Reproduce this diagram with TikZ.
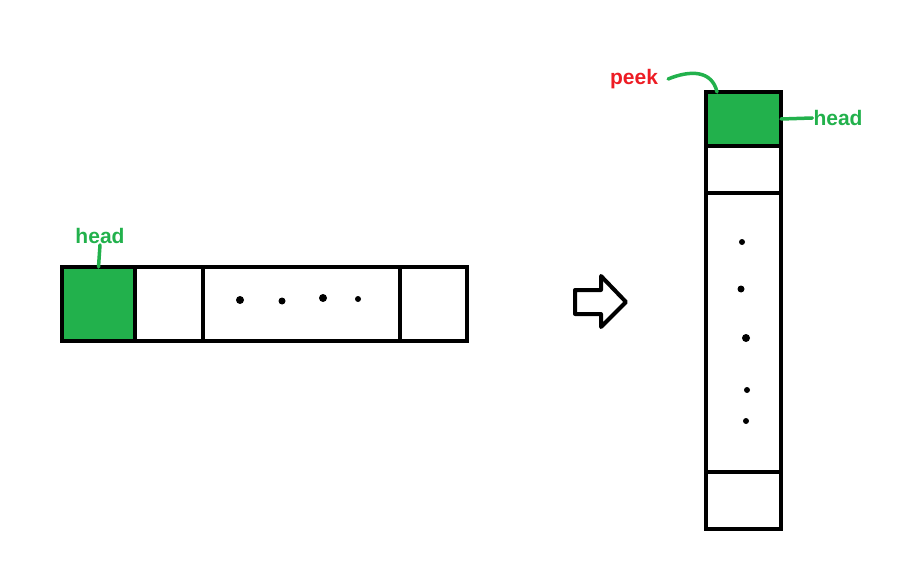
\documentclass[tikz,border=0pt]{standalone}
\usepackage{fontspec}
\setmainfont{Liberation Sans}
\definecolor{headgreen}{HTML}{22B14C}
\definecolor{peekred}{HTML}{ED1C24}
\tikzset{
  cell/.style={draw,line width=4pt,minimum height=#1,inner sep=0pt,outer sep=0pt},
  label/.style={font=\bfseries\fontsize{21}{21}\selectfont,inner sep=1pt},
  dot/.style={circle,fill=black,inner sep=0pt,minimum size=7pt},
  pointer/.style={headgreen,line width=3.5pt,line cap=round}
}
\begin{document}
\begin{tikzpicture}[x=1pt,y=-1pt]
\useasboundingbox (0,0) rectangle (919,575);
% the array, laid out in a row
\node [cell=74pt,minimum width=73pt,fill=headgreen] (c1) at (98.5,304) {};
\node [cell=74pt,minimum width=68pt] (c2) at (169,304) {};
\node [cell=74pt,minimum width=197pt] (c3) at (301.5,304) {};
\node [cell=74pt,minimum width=67pt] (c4) at (433.5,304) {};
\node [dot,minimum size=8pt] (d1) at (240,300) {};
\node [dot] (d2) at (282,301) {};
\node [dot,minimum size=8pt] (d3) at (323,298) {};
\node [dot,minimum size=6pt] (d4) at (358,299) {};
\node [label,headgreen] (hl) at (100,236) {head};
\draw [pointer] (hl.south) -- (c1.north);

% the arrow
\draw [line width=4pt,line join=round]
  (575,290) -- (601,290) -- (601,276) -- (626,302) -- (601,327) -- (601,314) -- (575,314) -- cycle;

% the same array, stood upright
\node [cell=54pt,minimum width=75pt,fill=headgreen] (r1) at (743.5,119) {};
\node [cell=47pt,minimum width=75pt] (r2) at (743.5,169.5) {};
\node [cell=279pt,minimum width=75pt] (r3) at (743.5,332.5) {};
\node [cell=57pt,minimum width=75pt] (r4) at (743.5,500.5) {};
\node [dot,minimum size=6pt] (e1) at (742,242) {};
\node [dot] (e2) at (741,289) {};
\node [dot,minimum size=8pt] (e3) at (746,338) {};
\node [dot,minimum size=6pt] (e4) at (747,390) {};
\node [dot,minimum size=6pt] (e5) at (746,421) {};
\node [label,peekred] (pk) at (634,79) {peek};
\node [label,headgreen] (hr) at (838,118) {head};
\draw [pointer] ([xshift=9pt]pk.east) .. controls (690,70) and (712,70) .. ([xshift=11pt]r1.north west);
\draw [pointer] (r1.east) -- (hr.west);
\end{tikzpicture}
\end{document}
